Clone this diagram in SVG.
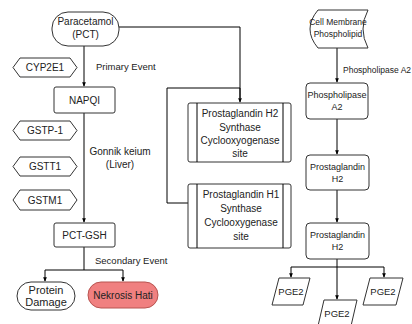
<svg xmlns="http://www.w3.org/2000/svg" width="412" height="324" viewBox="0 0 412 324">
<defs>
<marker id="arr" viewBox="0 0 6 6" refX="5" refY="3" markerWidth="4.5" markerHeight="4.5" orient="auto"><path d="M0,0.5 L6,3 L0,5.5 Z" fill="#000"/></marker>
<style>
.n{fill:#fff;stroke:#333;stroke-width:1}
.t{font-family:"Liberation Sans",Arial,sans-serif;font-size:10px;fill:#222;text-anchor:middle}
.l{font-family:"Liberation Sans",Arial,sans-serif;font-size:9.5px;fill:#222}
.c{fill:none;stroke:#000;stroke-width:1}
.ca{fill:none;stroke:#000;stroke-width:1;marker-end:url(#arr)}
</style>
</defs>
<rect width="412" height="324" fill="#fff"/>
<g id="connectors">
<path class="c" d="M119,27 H240 V98"/>
<path class="c" d="M240,88 H167 V203 H188"/>
<path class="ca" d="M84,45 V86"/>
<path class="ca" d="M84,113 V222"/>
<path class="c" d="M84,247 V270"/>
<path class="c" d="M45,270 H123"/>
<path class="ca" d="M45,270 V281"/>
<path class="ca" d="M123,270 V281"/>
<path class="ca" d="M240,88 V102"/>
<path class="ca" d="M337,48 V82"/>
<path class="ca" d="M337,119 V154"/>
<path class="ca" d="M337,190 V222"/>
<path class="c" d="M337,259 V267 M291,267 H384"/>
<path class="ca" d="M291,267 V277"/>
<path class="ca" d="M384,267 V277"/>
<path class="ca" d="M337,267 V299"/>
</g>
<g id="paracetamol"><rect class="n" x="52" y="12" width="67" height="34" rx="16"/><text class="t" x="85.5" y="25">Paracetamol</text><text class="t" x="85.5" y="38">(PCT)</text></g>
<g id="cyp2e1"><path class="n" d="M20,58 H70 L77,67.5 L70,77 H20 L13,67.5 Z"/><text class="t" x="45" y="71">CYP2E1</text></g>
<text class="l" x="96" y="70">Primary Event</text>
<g id="napqi"><rect class="n" x="54" y="87" width="61" height="26" rx="2"/><text class="t" x="84.5" y="104">NAPQI</text></g>
<g id="gstp1"><path class="n" d="M20,121 H70 L77,130.5 L70,140 H20 L13,130.5 Z"/><text class="t" x="45" y="134">GSTP-1</text></g>
<g id="gstt1"><path class="n" d="M20,157 H70 L77,166.5 L70,176 H20 L13,166.5 Z"/><text class="t" x="45" y="170">GSTT1</text></g>
<g id="gstm1"><path class="n" d="M20,190 H70 L77,200 L70,210 H20 L13,200 Z"/><text class="t" x="45" y="204">GSTM1</text></g>
<text class="t" x="120" y="155">Gonnik keium</text>
<text class="t" x="120" y="168">(Liver)</text>
<g id="pctgsh"><rect class="n" x="54" y="223" width="61" height="24" rx="2"/><text class="t" x="84.5" y="239">PCT-GSH</text></g>
<text class="l" x="95" y="264">Secondary Event</text>
<g id="protein"><rect class="n" x="17" y="282" width="58" height="28" rx="14"/><text class="t" x="46" y="294" style="font-size:11px">Protein</text><text class="t" x="46" y="306" style="font-size:11px">Damage</text></g>
<g id="nekrosis"><rect x="88" y="282" width="70" height="26" rx="13" fill="#f08080" stroke="#b85450"/><text class="t" x="123" y="299">Nekrosis Hati</text></g>
<g id="pgh2synth"><rect class="n" x="188" y="103" width="103" height="59" rx="2"/><path class="c" d="M197,103 V162 M283,103 V162" stroke="#333"/><text class="t" x="240" y="117">Prostaglandin H2</text><text class="t" x="240" y="131">Synthase</text><text class="t" x="240" y="144">Cyclooxyogenase</text><text class="t" x="240" y="157">site</text></g>
<g id="pgh1synth"><rect class="n" x="188" y="184" width="103" height="64" rx="2"/><path class="c" d="M197,184 V248 M283,184 V248" stroke="#333"/><text class="t" x="241" y="198">Prostaglandin H1</text><text class="t" x="241" y="212">Synthase</text><text class="t" x="241" y="226">Cyclooxygenase</text><text class="t" x="241" y="240">site</text></g>
<g id="cellmembrane"><path class="n" d="M318,10 H368 Q358,29 368,48 H318 Q302,29 318,10 Z"/><text class="t" x="338" y="25" style="font-size:8.5px">Cell Membrane</text><text class="t" x="338" y="37" style="font-size:8.5px">Phospholipid</text></g>
<text class="l" x="343" y="73" style="font-size:8.5px">Phospholipase A2</text>
<g id="pla2"><rect class="n" x="306" y="83" width="62" height="36" rx="4"/><text class="t" x="337" y="98" style="font-size:9px">Phospholipase</text><text class="t" x="337" y="110" style="font-size:9px">A2</text></g>
<g id="pgh2a"><rect class="n" x="306" y="155" width="63" height="35" rx="4"/><text class="t" x="337.5" y="170" style="font-size:9px">Prostaglandin</text><text class="t" x="337.5" y="182" style="font-size:9px">H2</text></g>
<g id="pgh2b"><rect class="n" x="306" y="223" width="63" height="36" rx="4"/><text class="t" x="337.5" y="238" style="font-size:9px">Prostaglandin</text><text class="t" x="337.5" y="250" style="font-size:9px">H2</text></g>
<g id="pge2a"><path class="n" d="M279,278 H310 L303,305 H272 Z" stroke-linejoin="round"/><text class="t" x="291" y="295" style="font-size:9.5px">PGE2</text></g>
<g id="pge2b"><path class="n" d="M370,278 H403 L396,305 H363 Z" stroke-linejoin="round"/><text class="t" x="383" y="295" style="font-size:9.5px">PGE2</text></g>
<g id="pge2c"><path class="n" d="M324,300 H357 L351,326 H318 Z" stroke-linejoin="round"/><text class="t" x="337" y="317" style="font-size:9.5px">PGE2</text></g>
</svg>
